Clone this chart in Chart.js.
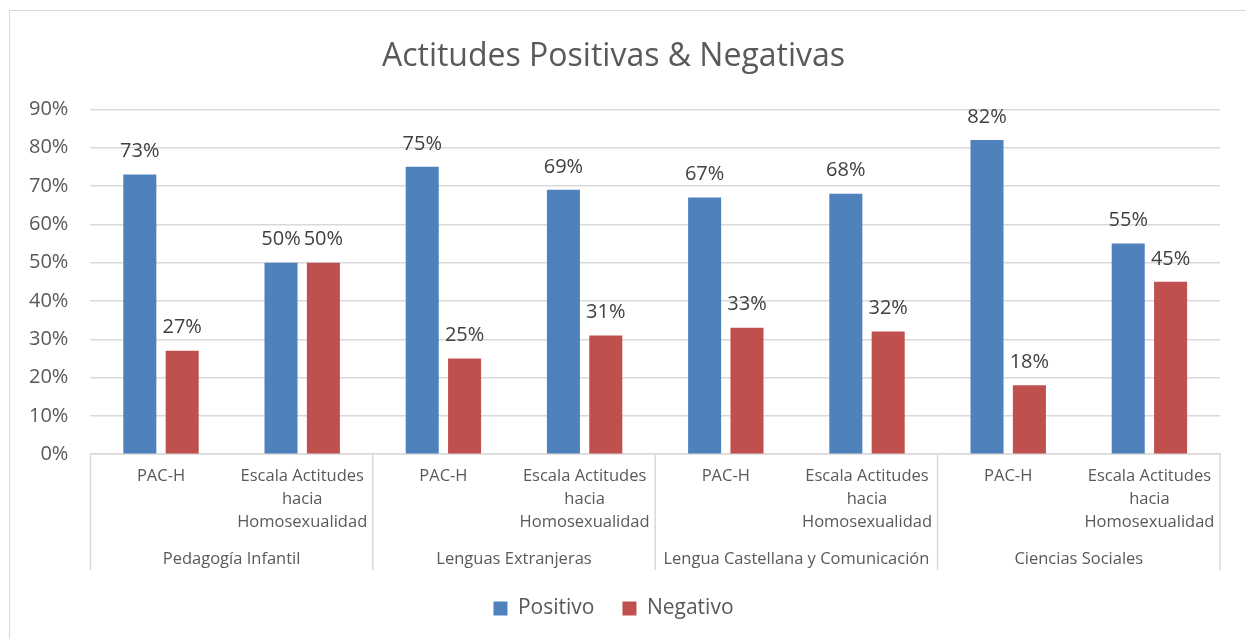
<!DOCTYPE html>
<html>
<head>
<meta charset="utf-8">
<script src="https://cdn.jsdelivr.net/npm/chart.js@4"></script>
<style>
  html, body { margin: 0; padding: 0; background: #fff; }
  #wrap { position: relative; width: 1246px; height: 639px; }
  #frame { position: absolute; left: 9px; top: 10px; right: -2px; bottom: -2px;
           border-left: 1.5px solid #d9d9d9; border-top: 1.5px solid #d9d9d9; }
  canvas { position: absolute; left: 0; top: 0; }
</style>
</head>
<body>
<div id="wrap">
  <div id="frame"></div>
  <canvas id="chart" width="1246" height="639"></canvas>
</div>
<script>
// Data
const categories = [
  "PAC-H", ["Escala Actitudes", "hacia", "Homosexualidad"],
  "PAC-H", ["Escala Actitudes", "hacia", "Homosexualidad"],
  "PAC-H", ["Escala Actitudes", "hacia", "Homosexualidad"],
  "PAC-H", ["Escala Actitudes", "hacia", "Homosexualidad"]
];
const groups = ["Pedagogía Infantil", "Lenguas Extranjeras", "Lengua Castellana y Comunicación", "Ciencias Sociales"];
const positivo = [73, 50, 75, 69, 67, 68, 82, 55];
const negativo = [27, 50, 25, 31, 33, 32, 18, 45];
const yTicks = [0, 10, 20, 30, 40, 50, 60, 70, 80, 90];

const FONT = "'Open Sans', 'DejaVu Sans', sans-serif";
const GRID = "#d9d9d9";
const GROUP_ROW = 25; // extra room under the category labels for the group row

// value labels above bars
const barLabels = {
    id: "barLabels",
    afterDatasetsDraw(chart) {
        const ctx = chart.ctx;
        ctx.save();
        ctx.font = "20px " + FONT;
        ctx.fillStyle = "#404040";
        ctx.textAlign = "center";
        ctx.textBaseline = "bottom";
        chart.data.datasets.forEach((ds, i) => {
            chart.getDatasetMeta(i).data.forEach((bar, j) => {
                ctx.fillText(ds.data[j] + "%", bar.x, bar.y - 13);
            });
        });
        ctx.restore();
    }
};

// group names + separators between the category groups
const groupAxis = {
    id: "groupAxis",
    afterDraw(chart) {
        const x = chart.scales.x;
        const ctx = chart.ctx;
        const step = x.width / groups.length;
        ctx.save();
        ctx.strokeStyle = GRID;
        ctx.lineWidth = 1.5;
        for (let g = 0; g <= groups.length; g++) {
            const px = x.left + g * step;
            ctx.beginPath();
            ctx.moveTo(px, chart.chartArea.bottom);
            ctx.lineTo(px, x.bottom);
            ctx.stroke();
        }
        ctx.font = "16.5px " + FONT;
        ctx.fillStyle = "#595959";
        ctx.textAlign = "center";
        ctx.textBaseline = "middle";
        groups.forEach((name, g) => {
            ctx.fillText(name, x.left + (g + 0.5) * step, x.bottom - 11);
        });
        ctx.restore();
    }
};

new Chart(document.getElementById("chart"), {
    type: "bar",
    data: {
        labels: categories,
        datasets: [{
            label: "Positivo",
            data: positivo,
            backgroundColor: "#4f81bd"
        }, {
            label: "Negativo",
            data: negativo,
            backgroundColor: "#c0504d"
        }]
    },
    options: {
        responsive: false,
        animation: false,
        categoryPercentage: 0.6,
        barPercentage: 0.78,
        layout: { padding: { left: 7, right: 26, top: 20, bottom: 10 } },
        scales: {
            y: {
                min: 0,
                max: 90,
                afterBuildTicks(scale) { scale.ticks = yTicks.map(v => ({ value: v })); },
                grid: { color: GRID, lineWidth: 1.5, drawTicks: false },
                border: { display: false },
                ticks: {
                    padding: 22,
                    color: "#595959",
                    font: { family: FONT, size: 20 },
                    callback: v => v + "%"
                }
            },
            x: {
                grid: { display: false, drawTicks: false },
                border: { display: true, color: GRID, width: 1.5 },
                afterFit(scale) { scale.height += GROUP_ROW; },
                ticks: {
                    padding: 11,
                    maxRotation: 0,
                    autoSkip: false,
                    color: "#595959",
                    font: { family: FONT, size: 16.5, lineHeight: 1.39 }
                }
            }
        },
        plugins: {
            title: {
                display: true,
                text: "Actitudes Positivas & Negativas",
                color: "#595959",
                font: { family: FONT, size: 32, weight: "normal" },
                padding: { top: 18, bottom: 33 }
            },
            legend: {
                position: "bottom",
                labels: {
                    boxWidth: 14,
                    boxHeight: 14,
                    padding: 28,
                    color: "#595959",
                    font: { family: FONT, size: 21 }
                }
            },
            tooltip: { enabled: false }
        }
    },
    plugins: [barLabels, groupAxis]
});
</script>
</body>
</html>
